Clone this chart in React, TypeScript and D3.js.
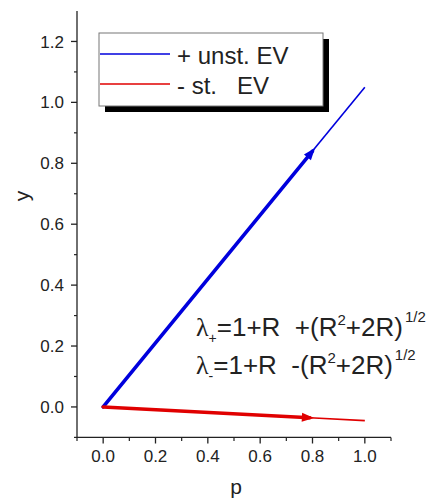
import React from "react";
import * as d3 from "d3";

const pRange = [0, 1];
const unstY = [0, 1.05];
const stY = [0, -0.045];
const arrowP = [0.8, 0.79];
const xTicks = [0, 0.2, 0.4, 0.6, 0.8, 1.0];
const yTicks = [0, 0.2, 0.4, 0.6, 0.8, 1.0, 1.2];
const xMinor = [-0.1, 0.1, 0.3, 0.5, 0.7, 0.9, 1.1];
const yMinor = [-0.1, 0.1, 0.3, 0.5, 0.7, 0.9, 1.1];
const legendLabels = ["+ unst. EV", "- st.   EV"];
const colors = ["#0000dd", "#e00000"];

export default function App() {
  const W = 434, H = 500;
  const x = d3.scaleLinear().domain([-0.1, 1.1]).range([77, 391]);
  const y = d3.scaleLinear().domain([-0.1, 1.3]).range([437.4, 11]);
  const font = "Arial, 'Liberation Sans', sans-serif";
  const txt = "#222";
  const series = [unstY, stY];
  const line = d3.line<[number, number]>().x(d => x(d[0])).y(d => y(d[1]));

  return (
    <svg width={W} height={H} style={{ position: "absolute", left: 0, top: 0 }}>
      <rect width={W} height={H} fill="white" />
      {series.map((s, i) => {
        const slope = (s[1] - s[0]) / (pRange[1] - pRange[0]);
        const ap = arrowP[i];
        const ay = s[0] + slope * (ap - pRange[0]);
        const x0 = x(pRange[0]), y0 = y(s[0]);
        const xa = x(ap), ya = y(ay);
        const ang = Math.atan2(ya - y0, xa - x0);
        const L = 12, Wd = 4.5;
        const tip = [xa + Math.cos(ang) * 4, ya + Math.sin(ang) * 4];
        const b1 = [tip[0] - Math.cos(ang) * L - Math.sin(ang) * Wd, tip[1] - Math.sin(ang) * L + Math.cos(ang) * Wd];
        const b2 = [tip[0] - Math.cos(ang) * L + Math.sin(ang) * Wd, tip[1] - Math.sin(ang) * L - Math.cos(ang) * Wd];
        return (
          <g key={i}>
            <path d={line([[pRange[0], s[0]], [ap, ay]]) || ""} stroke={colors[i]} strokeWidth={3.6} fill="none" strokeLinecap="round" />
            <path d={line([[ap, ay], [pRange[1], s[1]]]) || ""} stroke={colors[i]} strokeWidth={1.6} fill="none" />
            <polygon points={`${tip[0]},${tip[1]} ${b1[0]},${b1[1]} ${b2[0]},${b2[1]}`} fill={colors[i]} />
          </g>
        );
      })}
      <line x1={77} x2={77} y1={y(1.3)} y2={y(-0.1)} stroke="#222" strokeWidth={1.3} />
      <line x1={x(-0.1)} x2={x(1.1)} y1={437.4} y2={437.4} stroke="#222" strokeWidth={1.3} />
      {yTicks.map(t => (
        <g key={"y" + t}>
          <line x1={71} x2={77} y1={y(t)} y2={y(t)} stroke="#222" strokeWidth={1.3} />
          <text x={64} y={y(t)} dy="0.36em" textAnchor="end" fontFamily={font} fontSize={17} fill={txt}>{t.toFixed(1)}</text>
        </g>
      ))}
      {yMinor.map(t => (
        <line key={"ym" + t} x1={74} x2={77} y1={y(t)} y2={y(t)} stroke="#222" strokeWidth={1.2} />
      ))}
      {xTicks.map(t => (
        <g key={"x" + t}>
          <line x1={x(t)} x2={x(t)} y1={437.4} y2={443.5} stroke="#222" strokeWidth={1.3} />
          <text x={x(t)} y={462} textAnchor="middle" fontFamily={font} fontSize={17} fill={txt}>{t.toFixed(1)}</text>
        </g>
      ))}
      {xMinor.map(t => (
        <line key={"xm" + t} x1={x(t)} x2={x(t)} y1={437.4} y2={441} stroke="#222" strokeWidth={1.2} />
      ))}
      <text x={x(0.5) + 2} y={494} textAnchor="middle" fontFamily={font} fontSize={21} fill={txt}>p</text>
      <text transform={`translate(29,196) rotate(-90)`} textAnchor="middle" fontFamily={font} fontSize={21} fill={txt}>y</text>
      <rect x={105} y={39} width={224} height={73} fill="black" />
      <rect x={99} y={33} width={224} height={73} fill="white" stroke="#777" strokeWidth={1} />
      {legendLabels.map((l, i) => (
        <g key={l}>
          <line x1={100} x2={170} y1={54 + i * 30} y2={54 + i * 30} stroke={colors[i]} strokeWidth={1.6} />
          <text x={177} y={55 + i * 30} dy="0.36em" fontFamily={font} fontSize={24} fill={txt} style={{ whiteSpace: "pre" }}>{l}</text>
        </g>
      ))}
      <g fontFamily={font} fontSize={26} fill={txt}>
        <text x={196} y={336} style={{ whiteSpace: "pre" }}>
          <tspan fontFamily="'Liberation Serif', serif" fontSize={26}>λ</tspan>
          <tspan fontSize={14} dy={7}>+</tspan>
          <tspan dy={-7}>=1+R  +(R</tspan>
          <tspan fontSize={15} dy={-11}>2</tspan>
          <tspan dy={11}>+2R)</tspan>
          <tspan fontSize={15} dy={-14} dx={2}>1/2</tspan>
        </text>
        <text x={196} y={374} style={{ whiteSpace: "pre" }}>
          <tspan fontFamily="'Liberation Serif', serif" fontSize={26}>λ</tspan>
          <tspan fontSize={14} dy={7}>-</tspan>
          <tspan dy={-7}>=1+R  -(R</tspan>
          <tspan fontSize={15} dy={-11}>2</tspan>
          <tspan dy={11}>+2R)</tspan>
          <tspan fontSize={15} dy={-14} dx={2}>1/2</tspan>
        </text>
      </g>
    </svg>
  );
}
